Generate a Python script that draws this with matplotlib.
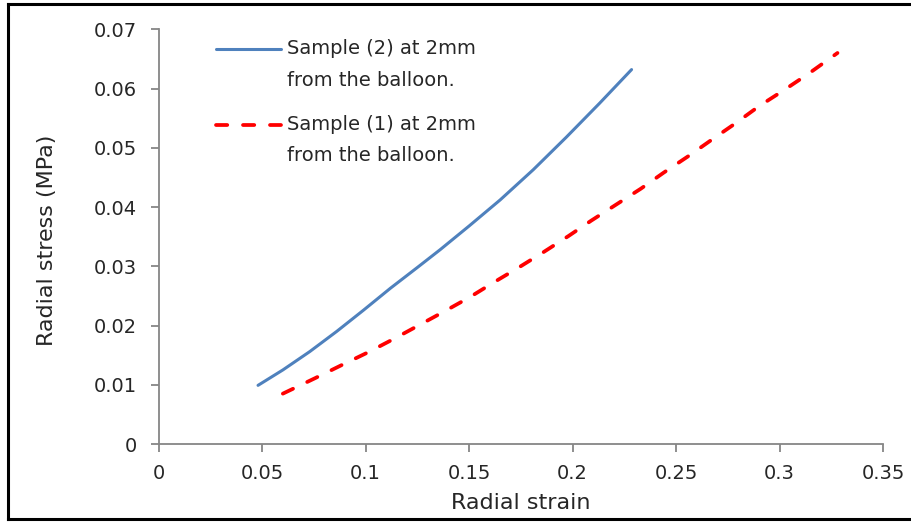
import matplotlib
matplotlib.use("Agg")
import matplotlib.pyplot as plt
from matplotlib.lines import Line2D

# Sample (2) at 2mm - blue solid
strain_s2 = [0.048, 0.060, 0.073, 0.086, 0.099, 0.112, 0.125, 0.136, 0.150, 0.165, 0.181, 0.197, 0.213, 0.2285]
stress_s2 = [0.0099, 0.0125, 0.0156, 0.0190, 0.0226, 0.0263, 0.0298, 0.0328, 0.0368, 0.0412, 0.0463, 0.0518, 0.0575, 0.0632]

# Sample (1) at 2mm - red dashed
strain_s1 = [0.060, 0.0755, 0.0883, 0.1013, 0.1134, 0.1255, 0.1376, 0.1504, 0.162, 0.174, 0.186, 0.198,
             0.209, 0.221, 0.233, 0.244, 0.256, 0.267, 0.279, 0.290, 0.302, 0.314, 0.328]
stress_s1 = [0.0085, 0.0111, 0.0133, 0.0155, 0.0177, 0.0200, 0.0223, 0.0248, 0.0273, 0.0298, 0.0324, 0.0351,
             0.0377, 0.0404, 0.0431, 0.0458, 0.0486, 0.0513, 0.0542, 0.0570, 0.0597, 0.0625, 0.0660]

labels = ["Sample (2) at 2mm\nfrom the balloon.", "Sample (1) at 2mm\nfrom the balloon."]
xticks = [0, 0.05, 0.1, 0.15, 0.2, 0.25, 0.3, 0.35]
xtick_labels = ["0", "0.05", "0.1", "0.15", "0.2", "0.25", "0.3", "0.35"]
yticks = [0, 0.01, 0.02, 0.03, 0.04, 0.05, 0.06, 0.07]
ytick_labels = ["0", "0.01", "0.02", "0.03", "0.04", "0.05", "0.06", "0.07"]

plt.rcParams['font.family'] = ['DejaVu Sans']
FS = 14
FSL = 16
W, H = 912, 522
fig = plt.figure(figsize=(W / 100, H / 100), dpi=100)
ax = fig.add_axes([158.7 / W, 1 - 444 / H, (883 - 158.7) / W, (444 - 29.3) / H])

blue_style = dict(color='#4F81BD', lw=2.2, solid_capstyle='round')
red_style = dict(color='#FF0000', lw=2.7, dashes=(3.0, 4.2), dash_capstyle='round')
ax.plot(strain_s2, stress_s2, label=labels[0], **blue_style)
ax.plot(strain_s1, stress_s1, label=labels[1], **red_style)

ax.set_xlim(0, 0.35)
ax.set_ylim(0, 0.07)
ax.set_xticks(xticks)
ax.set_xticklabels(xtick_labels)
ax.set_yticks(yticks)
ax.set_yticklabels(ytick_labels)
for s in ['top', 'right']:
    ax.spines[s].set_visible(False)
for s in ['left', 'bottom']:
    ax.spines[s].set_color('#868686')
    ax.spines[s].set_linewidth(1.3)
ax.tick_params(axis='both', colors='#868686', labelcolor='#262626', labelsize=FS, length=5.5, width=1.3, direction='out')
ax.tick_params(axis='y', pad=10)
ax.tick_params(axis='x', pad=9)
ax.set_xlabel("Radial strain", fontsize=FSL, color='#262626')
ax.set_ylabel("Radial stress (MPa)", fontsize=FSL, color='#262626')
ax.xaxis.set_label_coords(0.5, -(503 - 444) / (444 - 29.3), transform=ax.transAxes)
ax.xaxis.label.set_va('center')
ax.yaxis.set_label_coords(-(158.7 - 47) / (883 - 158.7), (444 - 240) / (444 - 29.3), transform=ax.transAxes)
ax.yaxis.label.set_va('center')

# legend drawn by hand: handle aligned with first text line
def fx(px):
    return px / W

def fy(py):
    return 1 - py / H

legend_rows = [(49, 80, blue_style, labels[0]), (125, 155, red_style, labels[1])]
for y1, y2, style, lab in legend_rows:
    fig.add_artist(Line2D([fx(216), fx(281)], [fy(y1), fy(y1)], transform=fig.transFigure, **style))
    first, second = lab.split("\n")
    fig.text(fx(287), fy(y1), first, fontsize=FS, color='#262626', va='center', ha='left')
    fig.text(fx(287), fy(y2), second, fontsize=FS, color='#262626', va='center', ha='left')

# figure border
bc = 'black'
fig.add_artist(Line2D([8 / W, 8 / W], [1 - 4 / H, 1 - 519 / H], color=bc, lw=2.2, transform=fig.transFigure))
fig.add_artist(Line2D([8 / W, 1], [1 - 4 / H, 1 - 4 / H], color=bc, lw=2.2, transform=fig.transFigure))
fig.add_artist(Line2D([8 / W, 1], [1 - 519 / H, 1 - 519 / H], color=bc, lw=2.2, transform=fig.transFigure))

fig.savefig("out.png", dpi=100)
